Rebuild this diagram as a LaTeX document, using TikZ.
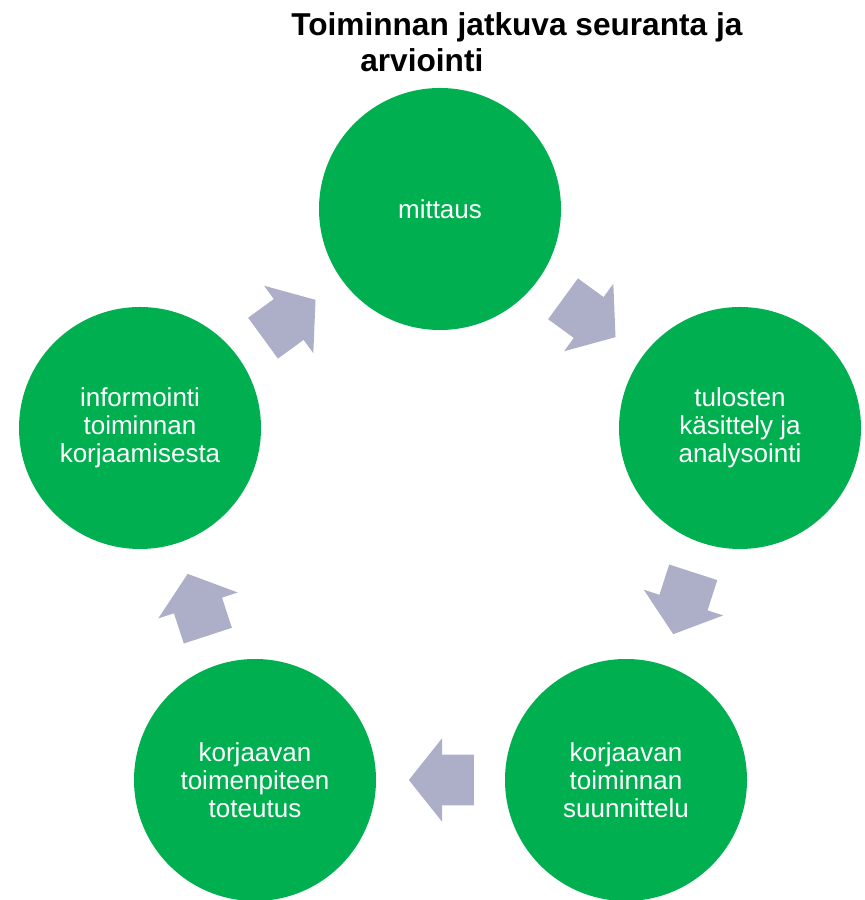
\documentclass[tikz,border=0pt]{standalone}
\usepackage{fontspec}
\setmainfont{Liberation Sans}
\usetikzlibrary{shapes.arrows}
\definecolor{vihrea}{RGB}{0,176,80}
\definecolor{nuolivari}{RGB}{173,175,200}

\begin{document}
\begin{tikzpicture}[vaihe/.style = {fill=vihrea,circle,minimum size=6.05cm,inner sep=0pt,text=white,align=center,font=\fontsize{18.5}{19.9}\selectfont},
		nuoli/.style = {single arrow,fill=nuolivari,minimum height=1.625cm,inner xsep=0pt,inner ysep=0.625cm,single arrow head extend=0.4125cm,single arrow tip angle=103,pos=0.415,sloped,allow upside down}]
		\useasboundingbox (0,0) rectangle (21.6,22.5);
		\node[anchor=base west, align=left, inner sep=0pt, font=\fontsize{22.5}{26.2}\selectfont\bfseries] (otsikko) at (7.275,20.7) {Toiminnan jatkuva seuranta ja\\\hspace*{1.725cm}arviointi};
		
		\node[vaihe] (M) at (11,17.275) {mittaus};
		\node[vaihe] (T) at (18.5,11.8) {tulosten\\käsittely ja\\analysointi};
		\node[vaihe] (S) at (15.65,3) {korjaavan\\toiminnan\\suunnittelu};
		\node[vaihe] (K) at (6.375,3) {korjaavan\\toimenpiteen\\toteutus};
		\node[vaihe] (I) at (3.5,11.8) {informointi\\toiminnan\\korjaamisesta};
		
		\path (M) -- node[nuoli] (n1) {} (T);
		\path (T) -- node[nuoli] (n2) {} (S);
		\path (S) -- node[nuoli] (n3) {} (K);
		\path (K) -- node[nuoli] (n4) {} (I);
		\path (I) -- node[nuoli] (n5) {} (M);
	\end{tikzpicture}
\end{document}
